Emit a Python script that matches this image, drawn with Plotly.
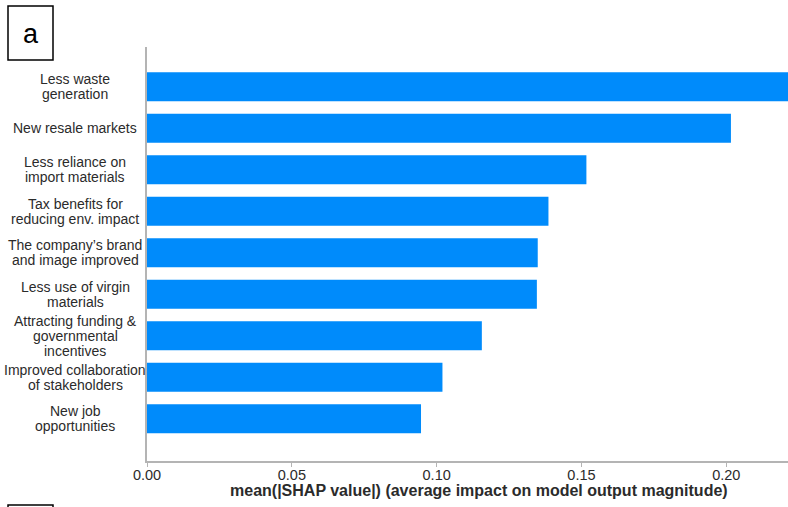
import plotly.graph_objects as go

# Feature names (top to bottom); "\n" marks a line break in the label
features = [
    "Less waste\ngeneration",
    "New resale markets",
    "Less reliance on\nimport materials",
    "Tax benefits for\nreducing env. impact",
    "The company’s brand\nand image improved",
    "Less use of virgin\nmaterials",
    "Attracting funding &\ngovernmental\nincentives",
    "Improved collaboration\nof stakeholders",
    "New job\nopportunities",
]
# mean(|SHAP value|) per feature
shap_mean = [0.229, 0.2016, 0.1517, 0.1386, 0.1349, 0.1346, 0.1156, 0.1020, 0.0946]

x_ticks = [0.00, 0.05, 0.10, 0.15, 0.20]
x_title = "mean(|SHAP value|) (average impact on model output magnitude)"

BLUE = "#008bfb"
AXIS = "#b4b4b4"
TEXT = "#2b2b2b"
FONT = "Liberation Sans, Arial, sans-serif"

W, H = 788, 507
L, R, T, B = 147, 0, 47, 46
PW, PH = W - L - R, H - T - B


def px_x(p):
    return (p - L) / PW


def px_y(p):
    return (H - B - p) / PH


# plotted bottom-to-top
names = [f.replace("\n", " ") for f in features][::-1]
vals = shap_mean[::-1]

fig = go.Figure(
    go.Bar(
        x=vals,
        y=names,
        orientation="h",
        width=0.7,
        marker=dict(color=BLUE, line=dict(width=0)),
        hoverinfo="x+y",
    )
)

annotations = []
LINE_H = 15
for feat in features:
    name = feat.replace("\n", " ")
    lines = feat.split("\n")
    n = len(lines)
    for j, line in enumerate(lines):
        # one annotation per text line for a tight, centred line spacing
        annotations.append(
            dict(
                text=line,
                xref="paper",
                x=0,
                xshift=-72,
                xanchor="center",
                yref="y",
                y=name,
                yanchor="middle",
                yshift=((n - 1) / 2 - j) * LINE_H,
                showarrow=False,
                font=dict(family=FONT, size=14, color=TEXT),
            )
        )

# x-axis title
annotations.append(
    dict(
        text="<b>" + x_title + "</b>",
        xref="paper",
        x=px_x(479),
        xanchor="center",
        yref="paper",
        y=0,
        yanchor="middle",
        yshift=-29,
        showarrow=False,
        font=dict(family=FONT, size=16, color=TEXT),
    )
)

# panel letter
annotations.append(
    dict(
        text="a",
        xref="paper",
        x=px_x(30.5),
        xanchor="center",
        yref="paper",
        y=px_y(34),
        yanchor="middle",
        showarrow=False,
        font=dict(family=FONT, size=27, color="#000000"),
    )
)

shapes = [
    dict(type="rect", xref="paper", yref="paper",
         x0=px_x(8), x1=px_x(53), y0=px_y(60), y1=px_y(6),
         line=dict(color="#000000", width=1.5), fillcolor="rgba(0,0,0,0)"),
    dict(type="rect", xref="paper", yref="paper",
         x0=px_x(8), x1=px_x(53), y0=px_y(560), y1=px_y(505),
         line=dict(color="#000000", width=1.5), fillcolor="rgba(0,0,0,0)"),
]

fig.update_layout(
    width=W,
    height=H,
    margin=dict(l=L, r=R, t=T, b=B, pad=0),
    paper_bgcolor="white",
    plot_bgcolor="white",
    showlegend=False,
    font=dict(family=FONT, color=TEXT),
    annotations=annotations,
    shapes=shapes,
    bargap=0.3,
)

fig.update_xaxes(
    range=[0, 0.2213],
    tickvals=x_ticks,
    ticktext=[f"{v:.2f}" for v in x_ticks],
    ticks="outside",
    ticklen=4,
    tickcolor=AXIS,
    tickwidth=1,
    ticklabelstandoff=-4,
    tickfont=dict(family=FONT, size=14.5, color=TEXT),
    showline=True,
    linecolor=AXIS,
    linewidth=1.5,
    showgrid=False,
    zeroline=False,
)

fig.update_yaxes(
    type="category",
    categoryorder="array",
    categoryarray=names,
    range=[-1.02, 8.96],
    showticklabels=False,
    ticks="",
    showline=True,
    linecolor=AXIS,
    linewidth=1.5,
    showgrid=False,
    zeroline=False,
)

fig.write_html("out.html")
